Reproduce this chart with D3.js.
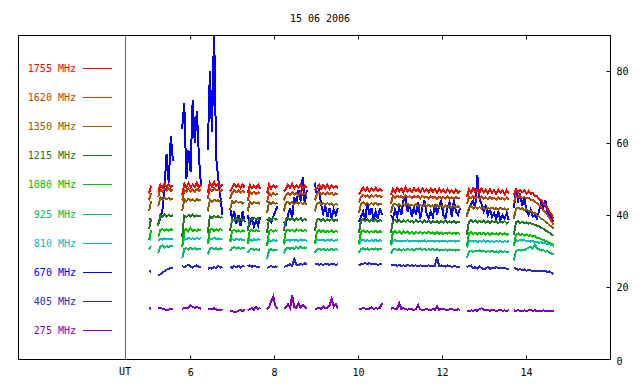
<!DOCTYPE html>
<html lang="en">
<head>
<meta charset="utf-8">
<title>15 06 2006</title>
<script src="https://cdn.jsdelivr.net/npm/d3@7"></script>
<style>
    body { margin: 0; background: #fff; }
    svg text { font-family: "DejaVu Sans Mono", monospace; font-size: 10px; }
    path.trace { shape-rendering: crispEdges; }
</style>
</head>
<body>
<script>
// frequencies in legend order (top to bottom) and their colours
var freqLabels = ["1755 MHz", "1620 MHz", "1350 MHz", "1215 MHz", "1080 MHz",
                  "925 MHz", "810 MHz", "670 MHz", "405 MHz", "275 MHz"];
var colors = ["#ff0000", "#c04000", "#8c5a00", "#207820", "#00c000",
              "#00c060", "#00c0c0", "#0000ff", "#2828c8", "#8000c0"];

var xTicks = [6, 8, 10, 12, 14];
var yTicks = [0, 20, 40, 60, 80];
var utTime = 4.45;

// observing segments: start time (UT hours), sampled every 0.05 h
var segStart = [5.02, 5.24, 5.81, 6.42, 6.95, 7.37, 7.83, 8.23, 8.97, 10.02, 10.78, 12.59, 13.71];
var step = 0.05;

var f1755 = [
 [46, 48.2],
 [46.5, 48.4, 47.6, 48.8, 47.7, 48.5, 47.6, 48.3],
 [45.5, 48.6, 47.6, 48.9, 47.7, 48.4, 47.8, 48.9, 47.7, 48.5],
 [46, 49, 47.9, 49.2, 48, 48.8, 47.7, 48.6],
 [46.5, 47.6, 48.6, 47.8, 48.4, 47.5, 48.5, 47.6],
 [46, 48.3, 47.4, 48.2, 47.5, 48.4, 47.3],
 [46, 48.5, 47.3, 48.2, 47.6, 48.1],
 [46.5, 47.3, 48.4, 47.5, 48.6, 47.4, 48.3, 47.6, 48.5, 47.3, 48.2, 47.5],
 [46.8, 47.6, 48.4, 47.2, 48.3, 47.5, 48.4, 47.3, 48.2, 47.6, 48, 47.4],
 [45.8, 46.6, 47.6, 46.8, 47.5, 46.5, 47.3, 46.8, 47.6, 46.7, 47.2, 46.6],
 [45.5, 47.2, 46.3, 47.5, 46.6, 47.4, 46.3, 47.6, 46.5, 47.2, 46.4, 47.5, 46.6, 47.3, 46.2, 47.4, 46.5,
  47.1, 46.3, 47.4, 46.4, 47.2, 46.1, 47.3, 46.4, 47, 46.2, 47.2, 46.3, 46.9, 46.1, 47.1, 46.2, 46.8],
 [45, 47.2, 46.2, 47.5, 46.4, 47.1, 46.1, 47.3, 46.3, 47, 46, 47.2, 46.2, 46.9, 45.9, 47, 46.1, 46.8, 45.8, 46.9, 46],
 [45.5, 47.1, 46.2, 47, 46.3, 46.8, 46, 46.7, 45.8, 46.2, 45.2, 45.3, 44.3, 44.2, 43.2, 42.6, 41.8, 40.8, 40, 38.8]
];
var f1620 = [
 [44, 46.2],
 [45, 47.1, 46.6, 47.3, 46.8, 47.4, 46.7, 47.1],
 [44, 47, 46.5, 47.3, 46.6, 47.1, 46.4, 47.2, 46.7, 47],
 [44.5, 47.2, 46.6, 47.4, 46.8, 47, 46.5, 47.1],
 [44.5, 46.2, 46.9, 46.3, 46.8, 46.1, 46.7, 46.2],
 [44, 46.4, 45.9, 46.5, 45.8, 46.3, 45.9],
 [43.5, 46, 45.4, 46.1, 45.6, 46],
 [44, 45.6, 46.2, 45.5, 46.3, 45.7, 46.1, 45.4, 46.2, 45.6, 46, 45.5],
 [44, 45.8, 46.4, 45.7, 46.2, 45.6, 46.3, 45.8, 46.1, 45.5, 46, 45.6],
 [43.5, 45, 45.6, 45.1, 45.5, 44.9, 45.4, 45, 45.6, 45.1, 45.3, 44.9],
 [43, 45.3, 44.8, 45.4, 44.9, 45.3, 44.7, 45.4, 45, 45.2, 44.7, 45.3, 44.9, 45.2, 44.6, 45.3, 44.8,
  45.1, 44.6, 45.2, 44.8, 45, 44.5, 45.1, 44.7, 45, 44.5, 45.1, 44.6, 44.9, 44.5, 45, 44.6, 44.8],
 [43, 45, 44.6, 45.2, 44.7, 45, 44.5, 45.1, 44.6, 44.9, 44.4, 45, 44.5, 44.8, 44.3, 44.9, 44.4, 44.7, 44.2, 44.8, 44.3],
 [43.5, 45.3, 44.9, 45.2, 44.8, 45, 44.6, 44.8, 44.3, 44.2, 43.6, 43.4, 42.6, 42.2, 41.4, 40.8, 40, 39.2, 38.2, 37.3]
];
var f1350 = [
 [41, 43.8],
 [42.5, 44.8, 44.2, 44.9, 44.4, 44.7, 44.3, 44.6],
 [41, 44.3, 43.8, 44.5, 44, 44.3, 43.9, 44.4, 44, 44.2],
 [41, 44.2, 43.7, 44.3, 43.9, 44.1, 43.6, 44],
 [41.5, 43.8, 43.3, 43.9, 43.4, 43.7, 43.2, 43.6],
 [41, 43.6, 43.1, 43.7, 43.2, 43.5, 43.1],
 [40.5, 43.5, 43, 43.6, 43.1, 43.4],
 [41, 43.3, 43.7, 43.1, 43.6, 43, 43.5, 43.1, 43.6, 43, 43.4, 42.9],
 [41, 43.2, 43.5, 42.9, 43.4, 42.8, 43.3, 42.9, 43.2, 42.7, 43.1, 42.8],
 [40.5, 43.2, 43.5, 42.9, 43.4, 42.8, 43.3, 42.9, 43.4, 42.8, 43.2, 42.9],
 [40.5, 42.8, 43.2, 42.6, 43.1, 42.5, 43, 42.6, 43.1, 42.5, 42.9, 42.4, 43, 42.5, 42.8, 42.3, 42.9,
  42.4, 42.8, 42.3, 42.7, 42.2, 42.8, 42.3, 42.6, 42.1, 42.7, 42.2, 42.5, 42, 42.6, 42.1, 42.4, 42],
 [39.5, 42, 42.4, 41.8, 42.3, 41.7, 42.2, 41.8, 42.1, 41.6, 42, 41.7, 42.1, 41.6, 41.9, 41.5, 42, 41.6, 41.8, 41.4, 41.7],
 [39, 41.8, 42.1, 41.6, 41.9, 41.4, 41.6, 41.1, 41.2, 40.6, 40.5, 39.9, 39.6, 39, 38.7, 38.1, 37.8, 37.2, 36.8, 36.3]
];
var f1215 = [
 [36, 39],
 [37, 39.9, 39.5, 40.1, 39.6, 40, 39.7, 39.9],
 [34, 39.8, 39.4, 40, 39.6, 40.2, 39.5, 39.9, 39.6, 39.8],
 [35, 39.6, 39.2, 39.8, 39.3, 39.7, 39.2, 39.5],
 [35.5, 38.8, 38.4, 39, 38.5, 38.9, 38.4, 38.8],
 [35.5, 39.1, 38.7, 39.2, 38.8, 39.1, 38.7],
 [35, 39, 38.6, 39.2, 38.7, 39],
 [35.5, 38.8, 39.2, 38.6, 39.1, 38.5, 39, 38.6, 39.2, 38.4, 38.9, 38.5],
 [35.5, 38.7, 39, 38.4, 38.9, 38.3, 38.8, 38.4, 38.9, 38.3, 38.7, 38.4],
 [35, 38.5, 38.9, 38.3, 38.8, 38.2, 38.7, 38.3, 38.8, 38.2, 38.6, 38.3],
 [35, 38.3, 38.7, 38.1, 38.6, 38, 38.5, 38.1, 38.6, 38, 38.4, 37.9, 38.5, 38, 38.4, 37.9, 38.5,
  38, 38.4, 37.8, 38.3, 37.9, 38.4, 37.8, 38.3, 37.9, 38.4, 37.8, 38.2, 37.9, 38.3, 37.8, 38.2, 37.9],
 [34.5, 38.2, 38.6, 38, 38.5, 37.9, 38.4, 38, 38.5, 37.9, 38.3, 37.8, 38.4, 37.9, 38.3, 37.8, 38.2, 37.9, 38.3, 37.7, 38.1],
 [34.5, 38, 38.3, 37.8, 38.1, 37.7, 37.9, 37.6, 37.7, 37.4, 37.3, 37, 36.9, 36.4, 36.2, 35.7, 35.4, 35, 34.6, 34.1]
];
var f1080 = [
 [33, 35.8],
 [34, 35.8, 36.1, 35.7, 36, 35.6, 36.1, 35.8],
 [31, 35.7, 36.1, 35.5, 36.4, 35.6, 35.9, 35.5, 36, 35.7],
 [32, 35.8, 36.2, 35.6, 36, 35.7, 36.1, 35.6],
 [32.5, 35.5, 35.9, 35.4, 35.8, 35.3, 35.7, 35.4],
 [32, 35.6, 35.9, 35.4, 35.8, 35.5, 35.7],
 [31.5, 35.5, 35.9, 35.4, 35.8, 35.5],
 [32, 35.7, 36, 35.5, 35.9, 35.4, 36, 35.6, 35.9, 35.5, 35.8, 35.6],
 [32, 35.4, 35.8, 35.3, 35.7, 35.2, 35.6, 35.3, 35.7, 35.2, 35.6, 35.3],
 [32, 35.4, 35.7, 35.2, 35.6, 35.1, 35.5, 35.2, 35.6, 35.1, 35.5, 35.2],
 [32, 35.2, 35.5, 35, 35.4, 34.9, 35.4, 35, 35.5, 34.9, 35.3, 34.8, 35.4, 34.9, 35.3, 34.8, 35.2,
  34.9, 35.3, 34.8, 35.2, 34.7, 35.3, 34.8, 35.2, 34.7, 35.1, 34.8, 35.2, 34.7, 35.1, 34.8, 35, 34.7],
 [31.5, 34.9, 35.2, 34.7, 35.1, 34.6, 35, 34.7, 35.1, 34.6, 35, 34.5, 35, 34.6, 34.9, 34.5, 35, 34.6, 34.9, 34.5, 34.8],
 [31.5, 34.6, 34.9, 34.4, 34.7, 34.3, 34.6, 34.2, 34.4, 34, 34.1, 33.7, 33.6, 33.3, 33.1, 32.8, 32.6, 32.3, 32, 31.7]
];
var f925 = [
 [30.5, 31.4],
 [29.5, 31.2, 31.5, 31, 31.4, 31.1, 31.5, 31.2],
 [28, 30.5, 30.8, 30.4, 30.9, 30.5, 30.8, 30.4, 30.7, 30.5],
 [29, 30.6, 30.9, 30.5, 30.8, 30.4, 30.7, 30.5],
 [30, 30.8, 31.1, 30.7, 31, 30.6, 30.9, 30.7],
 [29.5, 30.4, 30.7, 30.3, 30.6, 30.2, 30.5],
 [27.8, 30.2, 30.5, 30.1, 30.4, 30.2],
 [29.3, 30.7, 31, 30.6, 30.9, 30.5, 31.1, 30.7, 31.2, 30.8, 31, 30.7],
 [29.5, 30.4, 30.7, 30.3, 30.6, 30.2, 30.5, 30.3, 30.6, 30.2, 30.5, 30.3],
 [29.5, 30.5, 30.8, 30.4, 30.7, 30.3, 30.6, 30.4, 30.7, 30.3, 30.6, 30.4],
 [29.3, 30.3, 30.6, 30.2, 30.5, 30.1, 30.5, 30.2, 30.6, 30.3, 30.5, 30.1, 30.6, 30.4, 30.7, 30.3, 30.6,
  30.2, 30.5, 30.3, 30.6, 30.2, 30.5, 30.1, 30.4, 30.2, 30.5, 30.1, 30.4, 30.2, 30.4, 30.1, 30.3, 30.2],
 [28, 29.8, 30.1, 29.7, 30, 29.9, 30.2, 29.8, 30.1, 29.7, 30, 29.8, 30.1, 29.7, 29.9, 29.6, 30, 29.7, 29.9, 29.6, 29.8],
 [27.4, 30, 30.3, 30.1, 30.4, 30.2, 30.6, 30.9, 31.2, 30.7, 31.8, 30.8, 30.5, 30.1, 30.3, 29.8, 30, 29.5, 29.3, 29]
];
var f810 = [
 [33.5, 33.1],
 [32.8, 33.4, 33.2, 33.5, 33.3, 33.4, 33.2, 33.4],
 [31.5, 33.5, 33.3, 33.6, 33.4, 33.5, 33.3, 33.6, 33.4, 33.5],
 [32, 33.5, 33.3, 33.6, 33.4, 33.5, 33.2, 33.4],
 [32.5, 33.3, 33, 33.4, 33.1, 33.3, 33, 33.2],
 [32.3, 33.2, 32.8, 33.4, 32.9, 33.3, 33],
 [31.5, 33, 32.7, 33.1, 32.8, 33],
 [31.8, 32.9, 33.1, 32.8, 33.2, 32.9, 33.1, 32.8, 33.2, 32.9, 33.1, 32.8],
 [32, 33, 33.2, 32.9, 33.1, 32.8, 33.1, 32.9, 33.2, 32.8, 33, 32.9],
 [31.8, 32.9, 33.1, 32.8, 33, 32.7, 33, 32.8, 33.1, 32.7, 33, 32.8],
 [31.5, 32.8, 33, 32.7, 32.9, 32.6, 32.9, 32.7, 33, 32.6, 32.9, 32.7, 32.9, 32.6, 32.8, 32.7, 32.9,
  32.6, 32.8, 32.7, 32.9, 32.6, 32.8, 32.6, 32.9, 32.7, 32.8, 32.6, 32.8, 32.7, 32.8, 32.6, 32.8, 32.7],
 [31, 32.7, 32.9, 32.6, 32.8, 32.5, 32.8, 32.6, 32.9, 32.5, 32.8, 32.6, 32.7, 32.5, 32.8, 32.6, 32.7, 32.5, 32.7, 32.6, 32.7],
 [31.5, 33, 32.8, 33.1, 32.9, 33, 32.7, 32.9, 32.6, 32.7, 32.5, 32.6, 32.3, 32.4, 32.1, 32.2, 31.9, 31.9, 31.6, 31.5]
];
var f670 = [
 [39, 38.5],
 [37.5, 39, 41.5, 48, 57, 49, 62, 55],
 [64, 71, 50, 58, 52, 72, 60, 69, 56, 48],
 [58, 80, 63, 92, 56, 50, 45, 40],
 [42, 39, 41, 37.5, 40, 37, 41, 38],
 [40, 37.5, 39, 36.8, 38.5, 37, 39.5],
 [38.5, 39, 38, 39.5, 41, 42.5],
 [38, 37.5, 40, 42, 39, 45, 43, 47, 44, 50.5, 43, 47],
 [49, 45.5, 47, 43, 40.5, 42.5, 39.5, 42, 39, 41.5, 40, 42],
 [38, 39.5, 41, 38.5, 43.5, 40, 42, 38.5, 41, 39, 42, 40],
 [40, 39, 41.5, 39.5, 42, 40, 44, 45, 41, 43, 39.5, 42, 40, 43.5, 39, 42, 44,
  40.5, 39, 41, 39.5, 43, 40, 42.5, 44, 40, 39, 42, 43.5, 39.5, 44, 41, 40, 42],
 [40, 41.5, 43, 44, 42, 51, 44.5, 43, 41, 42.5, 40, 41.5, 39.5, 40.5, 39, 41, 38.5, 40, 39, 40.5, 38.5],
 [42, 46.5, 44, 46, 42.5, 45, 41, 40, 41.5, 39.5, 40, 39, 41, 43.5, 42, 44, 41, 40, 39, 38]
];
var f405 = [
 [24.5, 24.2],
 [23.2, 23.5, 24, 24.4, 24.8, 25, 25.4, 25.2],
 [25.8, 25.5, 25.9, 26.2, 25.7, 25.4, 25.8, 26, 25.5, 25.6],
 [25, 25.3, 25.1, 25.6, 25.2, 25.8, 25.4, 25.6],
 [25.6, 25.3, 25.8, 25.5, 25.9, 25.4, 25.8, 25.6],
 [25.7, 26, 25.6, 25.9, 25.7, 25.4, 25.6],
 [25.3, 25.6, 25.8, 25.5, 25.7, 25.4],
 [25.6, 25.8, 26, 26.4, 25.9, 27.8, 26.2, 26, 26.4, 26.2, 26.6, 26.4],
 [26.3, 26.4, 26.2, 26.3, 26.2, 26.4, 26.3, 26.2, 26.4, 26.3, 26.2, 26.3],
 [26, 26.3, 26.5, 26.6, 26.4, 26.6, 26.3, 26.5, 26.4, 26.2, 26.3, 26.4],
 [26.2, 26, 26.1, 25.9, 26.1, 25.9, 26, 25.8, 26.1, 25.9, 26, 25.9, 26, 25.8, 26, 25.9, 25.9,
  25.8, 26, 25.9, 25.8, 25.9, 28.3, 25.8, 26, 25.8, 25.7, 26, 25.8, 25.6, 25.8, 25.7, 25.5, 25.6],
 [25.5, 25.8, 26, 25.2, 25.5, 25.1, 25.7, 25.3, 24.9, 25.2, 25.6, 25, 25.4, 25.2, 25.5, 25.3, 25.4, 25.2, 25.3, 25.1, 25],
 [25.4, 25.1, 24.8, 25, 24.6, 24.9, 24.5, 24.8, 24.6, 24.4, 24.5, 24.4, 24.5, 24.4, 24.3, 24.4, 24.2, 24.3, 23.9, 23.6]
];
var f275 = [
 [14.1, 14],
 [14.2, 14.1, 14, 13.8, 13.6, 13.7, 13.9, 14],
 [14, 14.1, 14.3, 14.2, 14.9, 14.4, 14.2, 14.5, 14.1, 14],
 [13.9, 14, 13.8, 14.1, 13.8, 13.5, 13.7, 13.6],
 [13.5, 13.3, 13, 13.1, 13.4, 13.6, 13.3, 13.7],
 [13.6, 13.8, 14.2, 13.7, 14.5, 13.9, 14.2],
 [13.8, 14.5, 16, 17.4, 14.8, 14],
 [14, 14.3, 15.2, 14.1, 17.6, 14.5, 14.2, 15.4, 14.3, 15, 14.4, 14.1],
 [13.8, 14, 14.3, 13.9, 14.6, 14.1, 14.3, 14.8, 16.7, 14.5, 15.2, 14],
 [14, 13.9, 14.2, 14, 13.8, 14, 14.3, 13.9, 14.1, 14, 14.2, 15.5],
 [13.9, 14.2, 13.8, 14, 15.6, 13.9, 14.1, 13.8, 13.7, 14, 13.8, 13.6, 13.9, 15, 13.8, 13.6, 13.7,
  13.9, 13.7, 13.6, 13.8, 13.7, 14.6, 13.7, 13.8, 13.9, 13.7, 13.6, 13.8, 13.9, 13.7, 13.6, 13.8, 13.7],
 [13.2, 13.3, 13.5, 13.4, 13.6, 13.4, 13.8, 14.1, 13.7, 13.5, 13.6, 13.4, 13.6, 13.5, 13.4, 13.5, 13.6, 13.4, 13.5, 13.4, 13.5],
 [13.5, 13.4, 13.5, 13.4, 13.3, 13.5, 13.4, 13.5, 13.6, 13.4, 13.5, 13.4, 13.3, 13.4, 13.5, 13.4, 13.3, 13.4, 13.3, 13.4]
];

// same order as freqLabels
var seriesData = [f1755, f1620, f1350, f1215, f1080, f925, f810, f670, f405, f275];

var w = 640;
var h = 384;
var pLeft = 18, pRight = 610, pTop = 35, pBottom = 359;

var x = d3.scaleLinear().domain([1.9, 16]).range([pLeft, pRight]);
var y = d3.scaleLinear().domain([0, 90]).range([pBottom, pTop]);

var svg = d3.select("body")
            .append("svg")
            .attr("width", w)
            .attr("height", h);

svg.append("clipPath")
    .attr("id", "plotclip")
    .append("rect")
    .attr("x", pLeft).attr("y", pTop)
    .attr("width", pRight - pLeft).attr("height", pBottom - pTop);

// title
svg.append("text")
    .attr("x", 320)
    .attr("y", 22)
    .attr("text-anchor", "middle")
    .attr("fill", "#000")
    .text("15 06 2006");

// UT separator line
var utX = Math.round(x(utTime));
svg.append("rect")
    .attr("x", utX).attr("y", pTop)
    .attr("width", 1).attr("height", pBottom - pTop)
    .attr("fill", "#666");

var line = d3.line()
    .x(function(d) { return x(d.t); })
    .y(function(d) { return y(d.v); });

// draw lowest frequency first so the high ones sit on top
var plot = svg.append("g").attr("clip-path", "url(#plotclip)");
for (var k = seriesData.length - 1; k >= 0; k--) {
    seriesData[k].forEach(function(seg, j) {
        var pts = seg.map(function(v, i) {
            return { t: segStart[j] + i * step, v: v };
        });
        plot.append("path")
            .datum(pts)
            .attr("class", "trace")
            .attr("d", line)
            .attr("fill", "none")
            .attr("stroke", colors[k])
            .attr("stroke-width", 2);
    });
}

// legend inside the left part of the frame (1px swatches as filled rects)
var legend = svg.append("g");
freqLabels.forEach(function(lab, i) {
    var ly = Math.round(67.5 + i * 29.2);
    legend.append("text")
        .attr("x", 76)
        .attr("y", ly + 4)
        .attr("text-anchor", "end")
        .attr("fill", colors[i])
        .text(lab);
    legend.append("rect")
        .attr("x", 83).attr("y", ly)
        .attr("width", 29).attr("height", 1)
        .attr("fill", colors[i]);
});

// axes: ticks point inwards
svg.append("g")
    .attr("transform", "translate(0," + (pBottom + 0.5) + ")")
    .call(d3.axisBottom(x).tickValues(xTicks).tickSize(-4).tickSizeOuter(0).tickPadding(9))
    .call(function(g) { g.select(".domain").remove(); });

svg.append("g")
    .attr("transform", "translate(0," + (pTop + 0.5) + ")")
    .call(d3.axisTop(x).tickValues(xTicks).tickSize(-4).tickSizeOuter(0).tickFormat(""))
    .call(function(g) { g.select(".domain").remove(); });

svg.append("g")
    .attr("transform", "translate(" + (pRight + 0.5) + ",0)")
    .call(d3.axisRight(y).tickValues(yTicks).tickSize(-4).tickSizeOuter(0).tickPadding(6))
    .call(function(g) { g.select(".domain").remove(); })
    .call(function(g) {
        g.selectAll(".tick text").filter(function(d) { return d === 0; }).attr("dy", "0.5em");
    });

svg.selectAll(".tick text").attr("font-family", null).attr("font-size", null);

svg.append("text")
    .attr("x", x(utTime))
    .attr("y", 375)
    .attr("text-anchor", "middle")
    .attr("fill", "#000")
    .text("UT");

// frame
svg.append("rect")
    .attr("x", pLeft + 0.5).attr("y", pTop + 0.5)
    .attr("width", pRight - pLeft).attr("height", pBottom - pTop)
    .attr("fill", "none")
    .attr("stroke", "#000");
</script>
</body>
</html>
